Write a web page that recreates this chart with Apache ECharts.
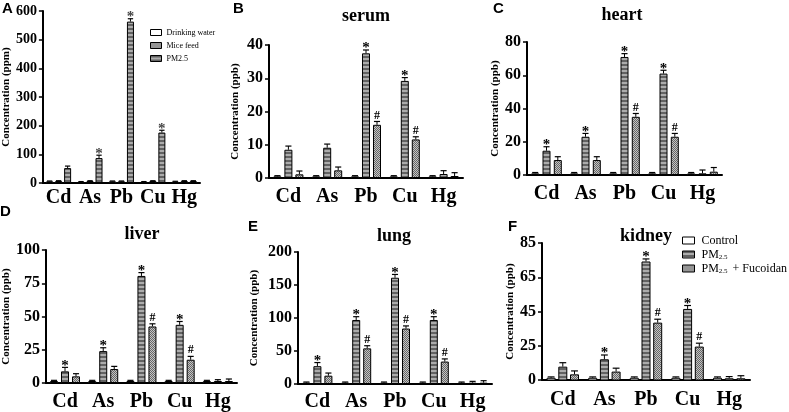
<!DOCTYPE html>
<html>
<head>
<meta charset="utf-8">
<script src="https://cdn.jsdelivr.net/npm/echarts@6/dist/echarts.min.js"></script>
<style>
html, body { margin: 0; padding: 0; background: #fff; }
#main { width: 789px; height: 412px; }
</style>
</head>
<body>
<div id="main"></div>
<script>
const metals = ['Cd', 'As', 'Pb', 'Cu', 'Hg'];

// A - exposure sources (ppm)
const aWater = [6, 4, 6, 4, 5];
const aWaterErr = [1, 1, 1, 1, 1];
const aFeed = [7, 7, 6, 7, 7];
const aFeedErr = [1, 1, 1, 1, 1];
const aPm = [52, 87, 563, 176, 7];
const aPmErr = [7, 10, 10, 8, 1];
const aPmMark = ['', '*', '*', '*', ''];

// B - serum (ppb)
const bCtrl = [0.5, 0.5, 0.5, 0.5, 0.5];
const bCtrlErr = [0.2, 0.2, 0.2, 0.2, 0.2];
const bPm = [8.5, 9.1, 37.5, 29.2, 1.2];
const bPmErr = [1.1, 1.1, 1, 1, 1];
const bFuc = [1.1, 2.3, 16, 11.6, 0.6];
const bFucErr = [1, 1, 1, 0.8, 1];
const bPmMark = ['', '', '*', '*', ''];
const bFucMark = ['', '', '#', '#', ''];

// C - heart
const cCtrl = [1, 1, 1, 1, 1];
const cCtrlErr = [0.5, 0.5, 0.5, 0.5, 0.5];
const cPm = [14.6, 23, 71, 61, 1];
const cPmErr = [2.4, 2, 2, 2, 2];
const cFuc = [9, 9, 35, 23, 2];
const cFucErr = [2, 2, 2, 2, 2.5];
const cPmMark = ['*', '*', '*', '*', ''];
const cFucMark = ['', '', '#', '#', ''];

// D - liver
const dCtrl = [1.5, 1.5, 1.5, 1.5, 1.5];
const dCtrlErr = [0.5, 0.5, 0.5, 0.5, 0.5];
const dPm = [8.75, 24, 80.5, 43.75, 1.5];
const dPmErr = [3, 2.5, 2.5, 2.5, 1];
const dFuc = [5, 10.5, 42.5, 17.5, 1.5];
const dFucErr = [2, 2, 2, 2.5, 1.5];
const dPmMark = ['*', '*', '*', '*', ''];
const dFucMark = ['', '', '#', '#', ''];

// E - lung
const eCtrl = [2, 2, 2, 2, 2];
const eCtrlErr = [1, 1, 1, 1, 1];
const ePm = [27, 97, 161, 97, 2];
const ePmErr = [5.5, 5, 5, 5, 2];
const eFuc = [12.6, 54, 84, 34, 2];
const eFucErr = [4, 4, 4, 4, 3];
const ePmMark = ['*', '*', '*', '*', ''];
const eFucMark = ['', '#', '#', '#', ''];

// F - kidney (axis bottom is labelled 0 but sits at 5)
const fCtrl = [6.3, 6.3, 6.3, 6.3, 6.3];
const fCtrlErr = [0.5, 0.5, 0.5, 0.5, 0.5];
const fPm = [12.8, 17.1, 74.2, 46.5, 6];
const fPmErr = [2.3, 2.5, 1.5, 2, 1];
const fFuc = [8.3, 9.9, 38.5, 24.5, 6];
const fFucErr = [2, 2, 2, 2, 1.5];
const fPmMark = ['', '*', '*', '*', ''];
const fFucMark = ['', '', '#', '#', ''];
const fTicks = [5, 25, 45, 65, 85];

const SERIF = 'Liberation Serif';
const SANS = 'Liberation Sans';

// fill patterns
function makePattern(w, h, draw) {
    const c = document.createElement('canvas');
    c.width = w; c.height = h;
    draw(c.getContext('2d'));
    return { image: c, repeat: 'repeat' };
}
const stripe = makePattern(1, 4, function (g) {
    g.fillStyle = '#626262'; g.fillRect(0, 0, 1, 2);
    g.fillStyle = '#acacac'; g.fillRect(0, 2, 1, 2);
});
const checker = makePattern(2, 2, function (g) {
    g.fillStyle = '#c4c4c4'; g.fillRect(0, 0, 2, 2);
    g.fillStyle = '#666666'; g.fillRect(0, 0, 1, 1); g.fillRect(1, 1, 1, 1);
});

const panels = [
    {
        letter: 'A', letterPos: [2, 1], title: null,
        grid: { left: 41, top: 11, width: 159, height: 172 },
        max: 600, interval: 100, unit: 'ppm', nameGap: 28, tickFont: 14, catMargin: 5,
        bw: 7, gap: 2, markColor: '#444',
        groups: [
            { name: 'Drinking water', vals: aWater, errs: aWaterErr, fill: '#fff' },
            { name: 'Mice feed', vals: aFeed, errs: aFeedErr, fill: checker },
            { name: 'PM2.5', vals: aPm, errs: aPmErr, marks: aPmMark, fill: stripe }
        ]
    },
    {
        letter: 'B', letterPos: [233, 1], title: 'serum', titlePos: [366, 7],
        grid: { left: 269, top: 45, width: 194, height: 133 },
        max: 40, interval: 10, unit: 'ppb', nameGap: 28, tickFont: 16, catMargin: 9,
        bw: 8, gap: 3, markColor: '#000',
        groups: [
            { name: 'Control', vals: bCtrl, errs: bCtrlErr, fill: '#fff' },
            { name: 'PM2.5', vals: bPm, errs: bPmErr, marks: bPmMark, fill: stripe },
            { name: 'PM2.5 + Fucoidan', vals: bFuc, errs: bFucErr, marks: bFucMark, fill: checker }
        ]
    },
    {
        letter: 'C', letterPos: [493, 1], title: 'heart', titlePos: [622, 6],
        grid: { left: 527, top: 42, width: 195, height: 133 },
        max: 80, interval: 20, unit: 'ppb', nameGap: 26, tickFont: 16, catMargin: 9,
        bw: 8, gap: 3.3, markColor: '#000',
        groups: [
            { name: 'Control', vals: cCtrl, errs: cCtrlErr, fill: '#fff' },
            { name: 'PM2.5', vals: cPm, errs: cPmErr, marks: cPmMark, fill: stripe },
            { name: 'PM2.5 + Fucoidan', vals: cFuc, errs: cFucErr, marks: cFucMark, fill: checker }
        ]
    },
    {
        letter: 'D', letterPos: [0, 204], title: 'liver', titlePos: [142, 225],
        grid: { left: 40, top: 250, width: 197, height: 133 },
        max: 100, interval: 25, unit: 'ppb', nameGap: 27, tickFont: 16, catMargin: 9,
        bw: 8, gap: 3, markColor: '#000',
        groups: [
            { name: 'Control', vals: dCtrl, errs: dCtrlErr, fill: '#fff' },
            { name: 'PM2.5', vals: dPm, errs: dPmErr, marks: dPmMark, fill: stripe },
            { name: 'PM2.5 + Fucoidan', vals: dFuc, errs: dFucErr, marks: dFucMark, fill: checker }
        ]
    },
    {
        letter: 'E', letterPos: [248, 219], title: 'lung', titlePos: [394, 227],
        grid: { left: 298, top: 252, width: 194, height: 132 },
        max: 200, interval: 50, unit: 'ppb', nameGap: 38, tickFont: 16, catMargin: 8,
        bw: 8, gap: 3, markColor: '#000',
        groups: [
            { name: 'Control', vals: eCtrl, errs: eCtrlErr, fill: '#fff' },
            { name: 'PM2.5', vals: ePm, errs: ePmErr, marks: ePmMark, fill: stripe },
            { name: 'PM2.5 + Fucoidan', vals: eFuc, errs: eFucErr, marks: eFucMark, fill: checker }
        ]
    },
    {
        letter: 'F', letterPos: [508, 219], title: 'kidney', titlePos: [646, 227],
        grid: { left: 542, top: 243, width: 208, height: 137 },
        min: 5, max: 85, ticks: fTicks, unit: 'ppb', nameGap: 24, tickFont: 16, catMargin: 10,
        bw: 9, gap: 2.7, markColor: '#000',
        groups: [
            { name: 'Control', vals: fCtrl, errs: fCtrlErr, fill: '#fff' },
            { name: 'PM2.5', vals: fPm, errs: fPmErr, marks: fPmMark, fill: stripe },
            { name: 'PM2.5 + Fucoidan', vals: fFuc, errs: fFucErr, marks: fFucMark, fill: checker }
        ]
    }
];

function errorSeries(idx, p) {
    const data = [], marks = [];
    p.groups.forEach(function (g, k) {
        g.vals.forEach(function (v, c) {
            data.push([c, v, g.errs[c], k]);
            marks.push(g.marks ? g.marks[c] : '');
        });
    });
    const n = p.groups.length;
    return {
        type: 'custom', xAxisIndex: idx, yAxisIndex: idx, z: 5, silent: true,
        encode: { x: 0, y: 1 },
        data: data,
        renderItem: function (params, api) {
            const c = api.value(0), v = api.value(1), e = api.value(2), k = api.value(3);
            const off = (k - (n - 1) / 2) * (p.bw + p.gap);
            const base = api.coord([c, v]);
            const tip = api.coord([c, v + e]);
            const x = base[0] + off;
            const hw = p.bw * 0.38;
            const children = [
                { type: 'line', shape: { x1: x, y1: base[1], x2: x, y2: tip[1] }, style: { stroke: '#000', lineWidth: 1 } },
                { type: 'line', shape: { x1: x - hw, y1: tip[1], x2: x + hw, y2: tip[1] }, style: { stroke: '#000', lineWidth: 1.2 } }
            ];
            const m = marks[params.dataIndex];
            if (m) {
                children.push({
                    type: 'text',
                    style: {
                        text: m, x: x, y: tip[1] + (m === '*' ? 6 : 0),
                        align: 'center', verticalAlign: 'bottom',
                        fontSize: m === '*' ? 15 : 12, fontFamily: SERIF, fontWeight: 'bold',
                        fill: p.markColor
                    }
                });
            }
            return { type: 'group', children: children };
        }
    };
}

const grids = [], xAxes = [], yAxes = [], series = [], titles = [];
panels.forEach(function (p, i) {
    grids.push(p.grid);
    xAxes.push({
        type: 'category', gridIndex: i, data: metals,
        axisLine: { lineStyle: { color: '#000', width: 2 } },
        axisTick: { show: false },
        axisLabel: { interval: 0, hideOverlap: false, color: '#000', fontFamily: SERIF, fontWeight: 'bold', fontSize: 20, margin: p.catMargin }
    });
    const y = {
        type: 'value', gridIndex: i, min: p.min || 0, max: p.max,
        name: 'Concentration (' + p.unit + ')', nameLocation: 'middle', nameGap: p.nameGap,
        nameTextStyle: { color: '#000', fontFamily: SERIF, fontWeight: 'bold', fontSize: 11 },
        splitLine: { show: false },
        axisLine: { show: true, lineStyle: { color: '#000', width: 2 } },
        axisTick: { show: true, length: 4, lineStyle: { color: '#000', width: 1.5 } },
        axisLabel: { color: '#000', fontFamily: SERIF, fontWeight: 'bold', fontSize: p.tickFont, margin: 6 }
    };
    if (p.ticks) {
        y.axisTick.customValues = p.ticks;
        y.axisLabel.customValues = p.ticks;
        y.axisLabel.formatter = function (v) { return v === p.min ? '0' : String(v); };
    } else {
        y.interval = p.interval;
    }
    yAxes.push(y);
    p.groups.forEach(function (g) {
        series.push({
            type: 'bar', name: g.name, xAxisIndex: i, yAxisIndex: i,
            data: g.vals, barWidth: p.bw, barGap: (p.gap / p.bw * 100) + '%',
            itemStyle: { color: g.fill, borderColor: '#000', borderWidth: 1 },
            silent: true
        });
    });
    series.push(errorSeries(i, p));
    titles.push({
        text: p.letter, left: p.letterPos[0], top: p.letterPos[1], padding: 0,
        textStyle: { color: '#000', fontFamily: SANS, fontWeight: 'bold', fontSize: 15 }
    });
    if (p.title) {
        titles.push({
            text: p.title, left: p.titlePos[0], top: p.titlePos[1], padding: 0, textAlign: 'center',
            textStyle: { color: '#000', fontFamily: SERIF, fontWeight: 'bold', fontSize: 18 }
        });
    }
});

const chart = echarts.init(document.getElementById('main'), null, { renderer: 'canvas' });
chart.setOption({
    backgroundColor: '#fff',
    animation: false,
    title: titles,
    grid: grids,
    xAxis: xAxes,
    yAxis: yAxes,
    legend: [
        {
            data: ['Drinking water', 'Mice feed', 'PM2.5'],
            orient: 'vertical', left: 150, top: 28, padding: 0, icon: 'rect',
            itemWidth: 11, itemHeight: 6, itemGap: 4, selectedMode: false,
            itemStyle: { borderColor: '#000', borderWidth: 1 },
            textStyle: { color: '#000', fontFamily: SERIF, fontSize: 8, lineHeight: 9 }
        },
        {
            data: ['Control', 'PM2.5', 'PM2.5 + Fucoidan'],
            orient: 'vertical', left: 682, top: 234, padding: 0, icon: 'rect',
            itemWidth: 12, itemHeight: 7, itemGap: 1, selectedMode: false,
            itemStyle: { borderColor: '#000', borderWidth: 1 },
            formatter: function (name) {
                if (name === 'PM2.5') return '{t|PM}{s|2.5}';
                if (name === 'PM2.5 + Fucoidan') return '{t|PM}{s|2.5}{t| + Fucoidan}';
                return '{t|' + name + '}';
            },
            textStyle: {
                color: '#000', fontFamily: SERIF, fontSize: 12, lineHeight: 13,
                rich: {
                    t: { fontFamily: SERIF, fontSize: 12, lineHeight: 13, color: '#000', padding: [0, 0, 0, 2] },
                    s: { fontFamily: SERIF, fontSize: 7, lineHeight: 7, verticalAlign: 'bottom', color: '#000' }
                }
            }
        }
    ],
    series: series
});
</script>
</body>
</html>
